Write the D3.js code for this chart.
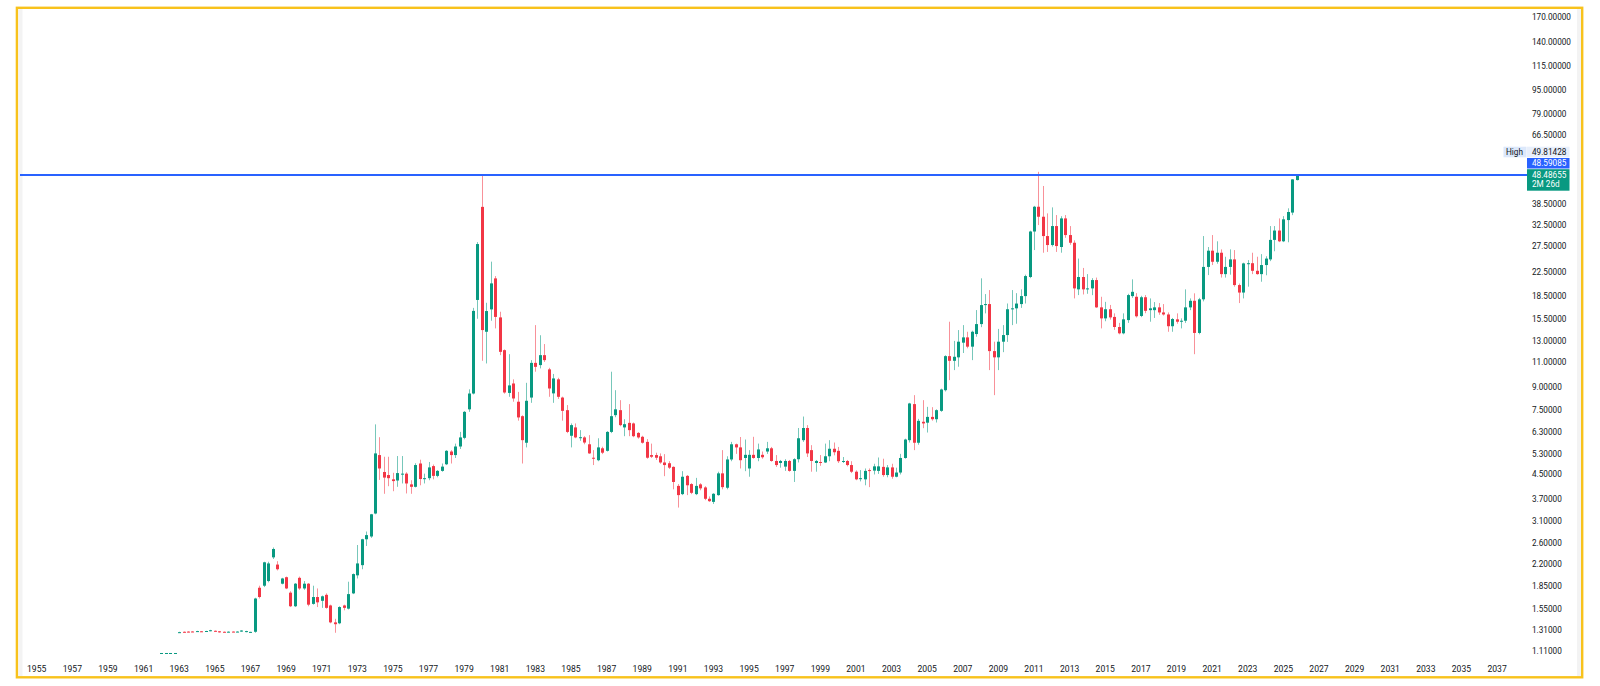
<!DOCTYPE html>
<html><head><meta charset="utf-8">
<script src="https://cdn.jsdelivr.net/npm/d3@7"></script>
<style>html,body{margin:0;padding:0;background:#fff;}svg{display:block;font-family:Roboto,"Liberation Sans",Arial,sans-serif;}</style>
</head><body><svg id="c" width="1600" height="686"></svg>
<script>
// quarterly candles, one line = one year (Q1..Q4)
const years = [1962,1963,1964,1965,1966,1967,1968,1969,1970,1971,1972,1973,1974,1975,1976,1977,1978,1979,
1980,1981,1982,1983,1984,1985,1986,1987,1988,1989,1990,1991,1992,1993,1994,1995,1996,1997,1998,1999,
2000,2001,2002,2003,2004,2005,2006,2007,2008,2009,2010,2011,2012,2013,2014,2015,2016,2017,2018,2019,
2020,2021,2022,2023,2024,2025];
const open = [
1.09,1.09,1.09,1.09, 1.283,1.29,1.292,1.293, 1.289,1.295,1.291,1.297, 1.30,1.295,1.29,1.287, 1.292,1.289,1.292,1.29,
1.286,1.29,1.83,1.86, 1.93,2.33,2.20,1.89, 1.99,1.76,1.58,1.98, 1.82,1.89,1.61,1.70, 1.65,1.73,1.59,1.39,
1.38,1.59,1.55,1.75, 2.02,2.19,2.69,2.75, 3.30,5.25,4.59,4.48, 4.33,4.29,4.50,4.53, 4.16,4.08,4.91,4.34,
4.37,4.81,4.45,4.63, 4.88,5.40,5.25,5.62, 6.02,7.55,8.56,18.0, 37.7,13.98,16.70,21.36, 15.67,12.08,8.60,9.27,
8.02,7.15,5.79,8.29, 10.92,10.73,11.61,10.37, 8.57,9.58,8.29,7.50, 6.12,6.54,6.03,6.04, 5.72,5.14,5.04,5.54,
5.43,6.31,7.21,7.50, 6.54,6.78,6.75,6.26, 6.07,5.83,5.25,5.25, 5.20,4.95,4.92,4.78, 4.11,3.85,4.45,4.17,
3.85,4.16,4.06,3.71, 3.62,3.82,4.54,4.05, 5.07,5.72,5.58,5.13, 4.72,5.26,5.13,5.26, 5.40,5.54,5.01,4.93,
4.79,5.01,4.63,5.08, 5.91,6.51,5.46,4.93, 4.97,4.95,5.20,5.52, 5.43,5.00,5.01,4.85, 4.60,4.35,4.33,4.66,
4.64,4.63,4.78,4.48, 4.76,4.42,4.57,5.13, 5.91,7.87,5.79,6.84, 6.79,7.11,6.98,7.46, 8.79,11.52,11.10,11.41,
12.82,13.37,12.42,13.73, 14.86,17.28,17.42,11.99, 11.41,12.92,13.62,16.72, 16.84,17.42,18.56,21.6, 31.0,37.74,34.86,29.9,
27.84,32.37,27.41,34.4, 30.14,28.35,19.58,21.6, 19.6,19.73,21.08,16.97, 15.55,16.72,15.73,14.52, 13.81,15.34,18.56,18.46,
15.85,18.39,16.6,16.6, 16.97,16.3,16.04,14.61, 15.43,15.14,15.26,16.97, 17.88,13.85,18.09,23.4, 26.62,24.38,26.19,22.1,
23.4,24.84,20.26,19.09, 24.0,24.1,22.69,22.1, 23.75,24.84,29.0,31.24, 28.68,33.95,36.03,46.65];
const high = [
1.09,1.09,1.09,1.09, 1.29,1.293,1.295,1.295, 1.30,1.297,1.30,1.31, 1.303,1.297,1.293,1.294, 1.294,1.295,1.306,1.30,
1.29,1.69,1.86,2.25, 2.25,2.52,2.26,1.98, 2.00,1.78,1.90,2.00, 1.93,1.90,1.86,1.82, 1.72,1.75,1.60,1.43,
1.58,1.60,1.92,2.05, 2.57,2.70,2.86,3.29, 6.70,6.05,5.18,5.18, 4.56,5.21,5.21,4.58, 4.30,4.92,5.06,4.53,
4.97,4.87,4.66,4.91, 5.46,5.46,5.75,6.31, 7.45,8.85,16.9,28.5, 48.2,17.6,24.4,21.76, 16.39,12.15,11.7,9.58,
8.67,7.20,9.32,11.16, 14.74,13.6,12.68,10.5, 10.0,9.70,8.35,7.81, 6.75,6.75,6.40,6.10, 6.15,5.46,6.00,5.61,
6.35,10.18,8.79,8.12, 6.98,7.87,6.80,6.30, 6.12,5.96,5.75,5.35, 5.32,5.29,5.00,4.80, 4.17,4.62,4.48,4.20,
4.38,4.20,4.10,3.78, 3.88,4.60,5.46,5.20, 5.83,5.75,6.06,5.94, 5.46,6.07,5.75,5.40, 5.83,5.60,5.25,5.05,
5.08,5.05,5.12,6.51, 7.13,6.66,5.68,5.05, 5.25,5.75,5.91,5.80, 5.60,5.17,5.05,5.00, 4.65,4.66,4.72,4.72,
4.90,5.15,5.10,4.85, 4.90,4.75,5.30,5.98, 7.95,8.45,7.00,8.12, 7.70,7.68,7.55,8.90, 11.6,15.14,13.0,14.17,
14.74,13.98,14.1,16.61, 21.37,18.86,19.47,12.92, 14.3,14.74,17.5,19.47, 19.0,19.58,22.0,31.2, 38.0,49.81,44.5,35.8,
37.55,35.33,35.0,35.33, 32.37,28.9,25.0,23.21, 22.1,21.4,21.5,18.46, 17.73,17.3,16.18,15.0, 16.18,18.9,21.2,19.0,
18.6,18.71,18.22,17.7, 17.56,17.42,16.3,15.6, 16.18,15.55,19.58,18.22, 18.97,18.3,29.9,27.41, 30.14,28.68,26.9,25.37,
26.9,26.75,20.5,24.2, 24.7,26.19,25.37,25.9, 25.47,32.37,32.37,34.4, 35.03,37.27,47.0,48.59];
const low = [
1.09,1.09,1.09,1.09, 1.28,1.283,1.285,1.287, 1.288,1.288,1.29,1.295, 1.293,1.282,1.285,1.285, 1.286,1.287,1.29,1.285,
1.283,1.28,1.68,1.84, 1.91,2.30,2.10,1.88, 1.81,1.57,1.57,1.80, 1.80,1.58,1.60,1.57, 1.56,1.55,1.38,1.28,
1.37,1.53,1.54,1.74, 1.97,2.12,2.55,2.72, 3.28,4.31,3.86,4.10, 3.94,4.08,4.19,3.87, 3.86,4.06,4.13,4.19,
4.30,4.33,4.40,4.60, 4.85,4.91,5.13,5.51, 5.95,7.40,8.50,15.5, 11.1,10.87,15.26,14.36, 11.61,8.55,8.34,8.02,
6.90,4.91,5.58,7.95, 10.18,10.45,11.0,8.34, 7.95,8.20,6.90,6.25, 5.58,6.00,5.88,5.72, 5.30,4.85,5.00,5.29,
5.40,6.25,7.09,6.60, 6.10,6.10,6.05,5.98, 5.75,5.10,5.13,5.05, 4.90,4.44,4.70,4.00, 3.46,3.82,3.82,3.85,
3.82,3.97,3.67,3.62, 3.56,3.80,4.00,4.00, 5.00,5.30,4.72,4.62, 4.42,5.10,5.00,5.10, 5.30,4.98,4.78,4.75,
4.63,4.60,4.24,4.95, 5.83,5.17,4.60,4.60, 4.82,4.93,5.00,5.24, 4.93,4.93,4.80,4.55, 4.30,4.26,4.13,4.07,
4.50,4.52,4.42,4.40, 4.35,4.40,4.50,5.10, 5.80,5.46,5.70,6.50, 6.28,6.90,6.80,7.40, 8.70,9.52,10.31,10.59,
11.81,12.26,11.16,13.44, 14.5,16.18,10.31,8.45, 10.31,11.89,12.9,14.74, 14.9,16.9,17.5,21.4, 26.75,32.63,26.19,26.36,
27.5,26.36,26.2,29.5, 27.9,18.22,18.71,18.8, 18.9,18.7,16.9,14.36, 15.2,15.4,14.2,13.7, 13.7,15.0,18.3,15.65,
15.7,16.2,15.14,15.6, 16.0,15.9,13.98,13.98, 14.9,14.36,15.0,16.6, 11.70,13.7,17.8,21.93, 23.75,24.0,21.5,21.5,
22.0,20.0,17.56,18.22, 20.0,22.1,22.0,20.8, 21.9,24.5,26.5,28.5, 28.5,28.46,35.3,46.5];
const close = [
1.09,1.09,1.09,1.09, 1.286,1.287,1.289,1.29, 1.297,1.292,1.298,1.306, 1.296,1.284,1.287,1.291, 1.289,1.292,1.303,1.297,
1.289,1.68,1.70,2.24, 2.22,2.49,2.12,1.97, 1.82,1.58,1.89,1.82, 1.89,1.60,1.70,1.63, 1.71,1.56,1.39,1.37,
1.57,1.56,1.74,2.04, 2.22,2.69,2.78,3.28, 5.32,4.72,4.39,4.37, 4.27,4.55,4.53,4.19, 4.08,4.85,4.34,4.37,
4.76,4.45,4.63,4.79, 5.43,5.25,5.62,6.04, 7.40,8.56,16.5,28.06, 14.17,16.48,20.53,15.73, 11.92,8.63,9.13,8.23,
7.08,5.91,8.08,10.92, 10.58,11.61,11.16,8.91, 9.65,8.34,7.46,6.31, 6.66,6.04,6.05,5.80, 5.32,5.12,5.58,5.35,
6.31,7.15,7.55,6.66, 6.71,6.40,6.10,6.04, 5.79,5.14,5.18,5.14, 4.95,4.85,4.75,4.24, 3.82,4.42,4.13,3.89,
4.11,4.03,3.71,3.64, 3.86,4.54,4.07,5.07, 5.72,5.58,5.04,5.26, 5.26,5.13,5.49,5.16, 5.54,5.01,4.85,5.01,
5.01,4.63,5.08,6.00, 6.51,5.32,5.01,5.01, 4.95,5.20,5.52,5.37, 5.00,5.01,4.85,4.60, 4.33,4.37,4.63,4.64,
4.80,4.80,4.48,4.76, 4.42,4.57,5.13,5.94, 7.91,5.79,6.89,6.75, 7.11,6.98,7.50,8.84, 11.52,11.10,11.46,12.92,
13.37,12.42,13.98,14.86, 17.28,17.42,11.99,11.41, 12.92,13.62,16.72,16.84, 17.49,18.56,21.76,31.0, 37.74,34.86,29.9,27.84,
32.37,27.62,34.4,30.14, 28.35,19.73,21.6,19.58, 19.73,21.08,16.97,15.55, 16.72,15.67,14.52,13.81, 15.43,18.71,19.2,15.81,
18.39,16.51,16.84,16.97, 16.3,16.04,14.61,15.47, 15.14,15.26,16.97,17.88, 13.85,18.09,23.4,26.62, 24.38,26.19,22.1,23.4,
24.84,20.26,19.09,24.06, 24.1,22.69,22.1,23.75, 25.0,29.0,31.24,28.68, 34.15,36.2,46.9,48.48655];

const priceTicks = [170,140,115,95,79,66.5,38.5,32.5,27.5,22.5,18.5,15.5,13,11,9,7.5,6.3,5.3,4.5,3.7,3.1,2.6,2.2,1.85,1.55,1.31,1.11];
const yearTicks = [1955,1957,1959,1961,1963,1965,1967,1969,1971,1973,1975,1977,1979,1981,1983,1985,1987,1989,1991,1993,
1995,1997,1999,2001,2003,2005,2007,2009,2011,2013,2015,2017,2019,2021,2023,2025,2027,2029,2031,2033,2035,2037];
const levelLine = 48.59085;
const highLabel = 49.81428;
const lastPrice = 48.48655;
const countdown = "2M 26d";

const UP = "#089981", DOWN = "#f23645";
const svg = d3.select("#c");
svg.append("rect").attr("width",1600).attr("height",686).attr("fill","#fff");

const x = d3.scaleTime().domain([new Date(1955,0,1), new Date(2037,0,1)]).range([36.7, 1497.1]);
const y = d3.scaleLog().domain([1.11, 140]).range([650.7, 41.7]);

// side strips
svg.append("rect").attr("x",18.5).attr("y",9).attr("width",4).attr("height",667).attr("fill","#f3f3f3");
svg.append("rect").attr("x",1577).attr("y",9).attr("width",4).attr("height",667).attr("fill","#f3f3f3");

const plot = svg.append("g");
const candles = open.map((o,i)=>({
  date: new Date(years[Math.floor(i/4)], (i%4)*3, 1),
  o, h: high[i], l: low[i], c: close[i]
}));

const g = plot.selectAll("g.cd").data(candles).join("g").attr("class","cd");
g.append("line")
  .attr("x1", d=>Math.round(x(d.date))+0.5).attr("x2", d=>Math.round(x(d.date))+0.5)
  .attr("y1", d=>y(d.h)).attr("y2", d=>y(d.l))
  .attr("stroke", d=>d.c>=d.o?UP:DOWN).attr("stroke-opacity",0.55).attr("stroke-width",1);
g.append("rect")
  .attr("x", d=>Math.round(x(d.date))-1).attr("width",3)
  .attr("y", d=>y(Math.max(d.o,d.c)))
  .attr("height", d=>Math.max(1, y(Math.min(d.o,d.c))-y(Math.max(d.o,d.c))))
  .attr("fill", d=>d.c>=d.o?UP:DOWN);

// horizontal level line
svg.append("line").attr("x1",20).attr("x2",1527).attr("y1",y(levelLine)).attr("y2",y(levelLine))
  .attr("stroke","#2962ff").attr("stroke-width",2);

// price axis labels
const axisFont = 8.2;
svg.append("g").selectAll("text").data(priceTicks).join("text")
  .attr("x",1532).attr("y",d=>y(d)).attr("dy","0.35em")
  .attr("font-size",axisFont).attr("fill","#131722")
  .text(d=>d.toFixed(5));

// year labels
svg.append("g").selectAll("text").data(yearTicks).join("text")
  .attr("x",d=>x(new Date(d,0,1))).attr("y",669).attr("dy","0.35em")
  .attr("text-anchor","middle").attr("font-size",8.6).attr("fill","#131722")
  .text(d=>d);

// High label
const hl = svg.append("g");
hl.append("rect").attr("x",1503.5).attr("y",146.7).attr("width",23).attr("height",10.6).attr("fill","#dce8fb");
hl.append("rect").attr("x",1527).attr("y",146.7).attr("width",42.5).attr("height",10.6).attr("fill","#e8effb");
hl.append("text").attr("x",1506).attr("y",152).attr("dy","0.35em").attr("font-size",axisFont).attr("fill","#131722").text("High");
hl.append("text").attr("x",1532).attr("y",152).attr("dy","0.35em").attr("font-size",axisFont).attr("fill","#131722").text(highLabel.toFixed(5));

// line label
svg.append("rect").attr("x",1527).attr("y",158).attr("width",42.5).attr("height",10.5).attr("fill","#2962ff");
svg.append("text").attr("x",1532).attr("y",163.2).attr("dy","0.35em").attr("font-size",axisFont).attr("fill","#fff").text(levelLine.toFixed(5));

// last price label
svg.append("rect").attr("x",1527).attr("y",169.2).attr("width",42.5).attr("height",21.5).attr("fill",UP);
svg.append("text").attr("x",1532).attr("y",174.8).attr("dy","0.35em").attr("font-size",axisFont).attr("fill","#fff").text(lastPrice.toFixed(5));
svg.append("text").attr("x",1532).attr("y",184.6).attr("dy","0.35em").attr("font-size",axisFont).attr("fill","#fff").text(countdown);

// frame
svg.append("rect").attr("x",16.9).attr("y",7.8).attr("width",1565.3).attr("height",669.5)
  .attr("fill","none").attr("stroke","#f8c21c").attr("stroke-width",2.4);
</script></body></html>
